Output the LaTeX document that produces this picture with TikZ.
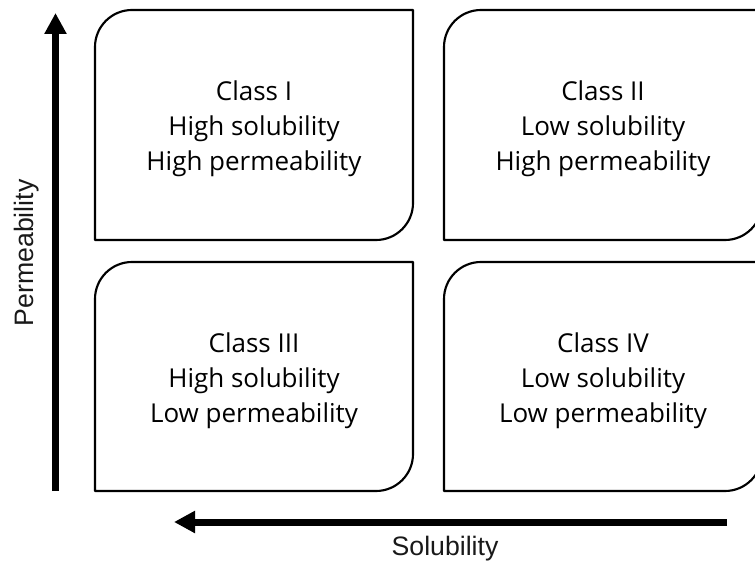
\documentclass[tikz,border=0pt]{standalone}
\usepackage{fontspec}
\setmainfont{Open Sans}
\newfontfamily\axisfont{Liberation Sans}
\usetikzlibrary{arrows.meta}
\tikzset{
  boxline/.style={line width=1.6pt, line join=round},
  boxtext/.style={align=center, font=\fontsize{19.5}{26.25}\selectfont, text=black},
  axisarrow/.style={line width=5.25pt, -{Triangle[length=15.75pt,width=15.75pt]}},
  axislabel/.style={font=\axisfont\fontsize{20}{24}\selectfont, text=black!90},
}
\newcommand\classshape[5]{%
  \draw[boxline] (#1,#4) -- (#1,#3-#5) arc[start angle=180,end angle=90,radius=#5]
    -- (#2,#3) -- (#2,#4+#5) arc[start angle=0,end angle=-90,radius=#5] -- cycle;}
\begin{document}
\begin{tikzpicture}[x=0.75pt,y=0.75pt]
\useasboundingbox (0,0) rectangle (755,560);
\classshape{95}{413}{550}{320}{37}
\classshape{444}{762}{550}{320}{37}
\classshape{95}{413}{298}{69}{37}
\classshape{444}{762}{298}{69}{37}
\node[boxtext] (c1) at (254,431) {Class I\\High solubility\\High permeability};
\node[boxtext] (c2) at (603,431) {Class II\\Low solubility\\High permeability};
\node[boxtext] (c3) at (254,179) {Class III\\High solubility\\Low permeability};
\node[boxtext] (c4) at (603,179) {Class IV\\Low solubility\\Low permeability};
\coordinate (pstart) at (55.5,69);
\coordinate (pend) at (55.5,547);
\coordinate (sstart) at (727,38);
\coordinate (send) at (174,38);
\draw[axisarrow] (pstart) -- (pend);
\draw[axisarrow] (sstart) -- (send);
\node[axislabel, rotate=90, anchor=base] (plabel) at (33,307) {Permeability};
\node[axislabel, anchor=base] (slabel) at (445,5) {Solubility};
\end{tikzpicture}
\end{document}
